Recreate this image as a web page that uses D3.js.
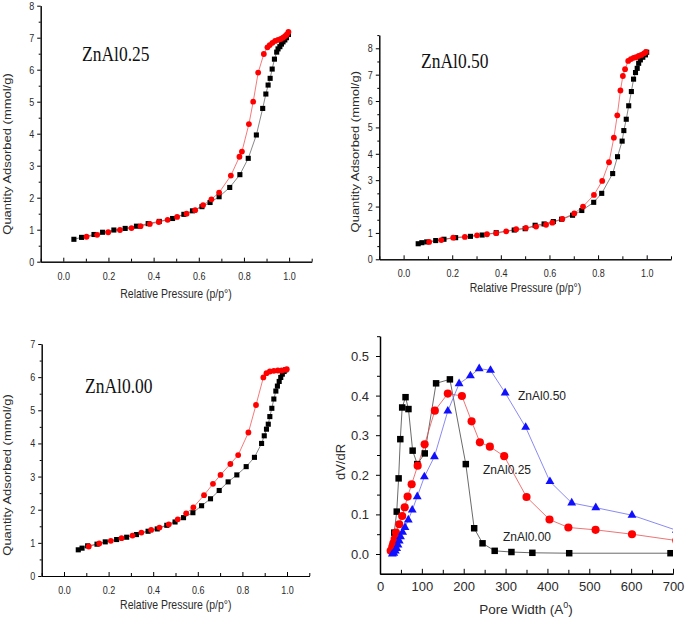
<!DOCTYPE html>
<html>
<head>
<meta charset="utf-8">
<script src="https://cdn.jsdelivr.net/npm/d3@7"></script>
<style>
body {margin:0; background:#fff;}
svg {display:block;}
text {font-family:"Liberation Sans", Arial, sans-serif;}
text.serif {font-family:"Liberation Serif", "Times New Roman", serif;}
</style>
</head>
<body>
<div id="chart"></div>
<script>
// isotherms: relative pressure (p/p0) vs quantity adsorbed (mmol/g)
var a25AdsP = [0.047,0.081,0.136,0.174,0.224,0.274,0.324,0.376,0.425,0.484,0.534,0.572,0.614,0.650,0.690,0.737,0.782,0.819,0.855,0.883,0.897,0.907,0.916,0.925,0.935,0.945,0.951,0.959,0.966,0.973,0.981,0.988,0.997];
var a25AdsQ = [0.70,0.76,0.85,0.92,0.99,1.04,1.11,1.19,1.26,1.35,1.48,1.59,1.72,1.85,2.03,2.32,2.72,3.23,3.96,4.79,5.24,5.52,5.73,6.02,6.33,6.55,6.65,6.72,6.80,6.87,6.93,7.00,7.10];
var a25DesP = [0.103,0.150,0.199,0.251,0.302,0.342,0.383,0.423,0.462,0.504,0.546,0.584,0.619,0.656,0.690,0.742,0.780,0.791,0.822,0.841,0.863,0.888,0.904,0.914,0.926,0.938,0.951,0.963,0.973,0.982,0.990,0.997];
var a25DesQ = [0.78,0.84,0.92,0.99,1.05,1.11,1.18,1.24,1.31,1.40,1.50,1.61,1.77,1.95,2.16,2.69,3.28,3.44,4.30,5.00,5.91,6.49,6.70,6.77,6.84,6.90,6.93,6.96,7.00,7.05,7.10,7.18];

var a50AdsP = [0.060,0.075,0.095,0.132,0.166,0.214,0.275,0.323,0.381,0.455,0.500,0.541,0.578,0.616,0.650,0.695,0.733,0.782,0.815,0.860,0.880,0.899,0.906,0.916,0.926,0.937,0.946,0.954,0.961,0.967,0.974,0.984,0.995,1.000];
var a50AdsQ = [0.59,0.63,0.66,0.71,0.76,0.82,0.87,0.92,1.01,1.11,1.16,1.29,1.34,1.43,1.52,1.67,1.85,2.16,2.50,3.25,3.89,4.48,4.88,5.31,5.82,6.36,6.83,7.08,7.24,7.43,7.56,7.66,7.75,7.85];
var a50DesP = [0.105,0.155,0.204,0.252,0.302,0.343,0.381,0.422,0.463,0.503,0.545,0.586,0.612,0.653,0.702,0.738,0.783,0.817,0.845,0.865,0.879,0.892,0.902,0.911,0.924,0.935,0.946,0.956,0.967,0.978,0.989,0.997];
var a50DesQ = [0.66,0.73,0.82,0.85,0.91,0.95,0.99,1.06,1.14,1.19,1.24,1.31,1.39,1.53,1.74,2.00,2.44,2.97,3.68,4.61,5.46,6.40,6.95,7.21,7.52,7.59,7.64,7.66,7.71,7.75,7.81,7.86];

var a00AdsP = [0.064,0.081,0.106,0.148,0.185,0.236,0.281,0.325,0.377,0.418,0.461,0.498,0.536,0.578,0.617,0.657,0.696,0.736,0.775,0.817,0.854,0.886,0.898,0.908,0.916,0.923,0.932,0.941,0.950,0.957,0.965,0.972,0.979,0.987,0.994];
var a00AdsQ = [0.79,0.84,0.91,0.96,1.03,1.10,1.17,1.25,1.35,1.42,1.53,1.63,1.76,1.91,2.12,2.33,2.58,2.84,3.05,3.30,3.58,4.00,4.23,4.43,4.58,4.81,5.06,5.34,5.58,5.73,5.87,5.99,6.09,6.17,6.22];
var a00DesP = [0.111,0.158,0.210,0.258,0.307,0.347,0.391,0.428,0.470,0.510,0.548,0.580,0.628,0.668,0.702,0.746,0.781,0.827,0.861,0.894,0.908,0.923,0.941,0.959,0.976,0.991,0.999];
var a00DesQ = [0.89,0.98,1.06,1.14,1.22,1.31,1.39,1.46,1.56,1.71,1.89,2.07,2.44,2.78,3.05,3.38,3.65,4.33,5.16,5.99,6.12,6.17,6.19,6.20,6.20,6.22,6.24];

// pore size distribution: pore width (A) vs dV/dR
var psdW00 = [31,34,40,44.5,48.5,53,61,68,78,89,107,134,167,205,225,245,274,314,364,452,694];
var psdV00 = [0.02,0.054,0.107,0.191,0.29,0.37,0.396,0.366,0.261,0.227,0.254,0.431,0.441,0.227,0.065,0.027,0.008,0.005,0.003,0.002,0.002];
var psdW25 = [25.5,29.4,31.8,35,38.2,46,53,59,66,75.6,90,106.6,131,162,195.7,218.8,238.6,262.5,296.7,350,405,450,515,602,708];
var psdV25 = [0.008,0.018,0.027,0.038,0.054,0.075,0.096,0.118,0.145,0.176,0.223,0.277,0.362,0.405,0.399,0.335,0.282,0.271,0.247,0.144,0.087,0.067,0.061,0.050,0.034];
var psdW50 = [29.4,33,36.6,39.8,43,46,49,54,59.7,67.6,77,89,106,130,162,189,216,237,264,299,348,406,458,515.5,602,708];
var psdV50 = [0.0,0.002,0.008,0.014,0.023,0.033,0.044,0.055,0.067,0.086,0.111,0.145,0.195,0.246,0.361,0.43,0.45,0.468,0.464,0.407,0.32,0.183,0.129,0.117,0.098,0.060];

var psdNames = ["ZnAl0.00", "ZnAl0.25", "ZnAl0.50"];

var svg = d3.select("#chart").append("svg")
    .attr("width", 685)
    .attr("height", 624);

var sansCol = "#2b2b2b";
var stretch = 1.18;   // the three isotherm panels are squashed horizontally in the source

function styleTicks(sel) {
    sel.attr("color", "#000");
    sel.selectAll("path, line").attr("stroke-width", 1);
}

function drawIso(c) {
    var g = svg.append("g");
    var x = d3.scaleLinear().domain([-0.1, 1.1]).range([c.left, c.right]);
    var y = d3.scaleLinear().domain([0, c.ymax]).range([c.bottom, c.top]);

    // x axis, ticks point inward
    g.append("g")
	.attr("transform", "translate(0," + c.bottom + ")")
	.call(d3.axisBottom(x).tickValues([-0.1, 0.1, 0.3, 0.5, 0.7, 0.9, 1.1])
	      .tickSizeInner(-3).tickSizeOuter(0).tickFormat(""))
	.call(styleTicks);
    var xa = g.append("g")
	.attr("transform", "translate(0," + c.bottom + ")")
	.call(d3.axisBottom(x).tickValues([0, 0.2, 0.4, 0.6, 0.8, 1.0])
	      .tickSizeInner(-4).tickSizeOuter(0).tickFormat(d3.format(".1f")))
	.call(styleTicks);
    xa.selectAll("text")
	.attr("y", null).attr("dy", null)
	.attr("transform", "translate(0,18) scale(1," + stretch + ")")
	.attr("font-size", 9).attr("fill", sansCol);

    // y axis, ticks point outward
    g.append("g")
	.attr("transform", "translate(" + c.left + ",0)")
	.call(d3.axisLeft(y).tickValues(d3.range(0.5, c.ymax + 0.01, 1))
	      .tickSizeInner(2).tickSizeOuter(0).tickFormat(""))
	.call(styleTicks);
    var ya = g.append("g")
	.attr("transform", "translate(" + c.left + ",0)")
	.call(d3.axisLeft(y).tickValues(d3.range(0, c.ymax + 0.01, 1))
	      .tickSizeInner(3.5).tickSizeOuter(0).tickFormat(d3.format("d")))
	.call(styleTicks);
    ya.selectAll("text")
	.attr("x", null).attr("dy", "0.33em")
	.attr("transform", "translate(-6.5,0) scale(1," + stretch + ")")
	.attr("font-size", 9).attr("fill", sansCol);

    g.append("text")
	.attr("text-anchor", "middle")
	.attr("transform", "translate(" + c.xtX + "," + c.xtY + ") scale(1," + stretch + ")")
	.attr("font-size", 10.5).attr("fill", sansCol)
	.text("Relative Pressure (p/p°)");
    g.append("text")
	.attr("text-anchor", "middle")
	.attr("transform", "translate(" + c.ytX + "," + c.ytY + ") scale(1," + stretch + ") rotate(-90)")
	.attr("font-size", 11).attr("fill", sansCol)
	.text("Quantity Adsorbed (mmol/g)");

    g.append("text")
	.attr("class", "serif")
	.attr("transform", "translate(" + c.lx + "," + c.ly + ") scale(1," + stretch + ")")
	.attr("font-size", 17.5).attr("fill", "#111")
	.text(c.label);

    var ads = d3.zip(c.ads[0], c.ads[1]);
    var des = d3.zip(c.des[0], c.des[1]);
    var line = d3.line().x(function(d){return x(d[0]);}).y(function(d){return y(d[1]);});

    g.append("path").datum(ads).attr("d", line)
	.attr("fill", "none").attr("stroke", "#555").attr("stroke-width", 0.7);
    g.append("path").datum(des).attr("d", line)
	.attr("fill", "none").attr("stroke", "#f04040").attr("stroke-width", 0.7);

    g.selectAll(".sq").data(ads).enter().append("path")
	.attr("class", "sq")
	.attr("transform", function(d){return "translate(" + x(d[0]) + "," + y(d[1]) + ")";})
	.attr("d", d3.symbol().type(d3.symbolSquare).size(26))
	.attr("fill", "#000");
    g.selectAll(".ci").data(des).enter().append("circle")
	.attr("class", "ci")
	.attr("cx", function(d){return x(d[0]);})
	.attr("cy", function(d){return y(d[1]);})
	.attr("r", 2.9)
	.attr("fill", "#f00");
}

drawIso({left: 40.7, right: 311.7, bottom: 261.7, top: 5.7, ymax: 8,
	 ads: [a25AdsP, a25AdsQ], des: [a25DesP, a25DesQ], label: "ZnAl0.25",
	 lx: 82, ly: 61, xtX: 176, xtY: 297.5, ytX: 10.5, ytY: 154});
drawIso({left: 379.3, right: 671, bottom: 259.3, top: 35.1, ymax: 8.5,
	 ads: [a50AdsP, a50AdsQ], des: [a50DesP, a50DesQ], label: "ZnAl0.50",
	 lx: 421, ly: 67.5, xtX: 525.5, xtY: 291.5, ytX: 359, ytY: 151.7});
drawIso({left: 41.7, right: 309.3, bottom: 576, top: 344, ymax: 7,
	 ads: [a00AdsP, a00AdsQ], des: [a00DesP, a00DesQ], label: "ZnAl0.00",
	 lx: 85, ly: 392.5, xtX: 175.8, xtY: 608.5, ytX: 11, ytY: 475});

// pore size distribution panel
function drawPsd() {
    var g = svg.append("g");
    var x = d3.scaleLinear().domain([0, 700]).range([380, 673]);
    var y = d3.scaleLinear().domain([-0.05, 0.55]).range([573.8, 336.2]);

    g.append("clipPath").attr("id", "psdclip")
	.append("rect").attr("x", 380).attr("y", 330).attr("width", 293).attr("height", 246);

    g.append("g")
	.attr("transform", "translate(0," + y(-0.05) + ")")
	.call(d3.axisBottom(x).tickValues(d3.range(50, 700, 100))
	      .tickSizeInner(-4).tickSizeOuter(0).tickFormat(""))
	.call(styleTicks);
    var xa = g.append("g")
	.attr("transform", "translate(0," + y(-0.05) + ")")
	.call(d3.axisBottom(x).tickValues(d3.range(0, 701, 100))
	      .tickSizeInner(-5).tickSizeOuter(0).tickFormat(d3.format("d")))
	.call(styleTicks);
    xa.selectAll("path").attr("stroke-width", 1.5);
    xa.selectAll("text")
	.attr("y", 17.5).attr("dy", null)
	.attr("font-size", 13).attr("fill", sansCol);

    g.append("g")
	.attr("transform", "translate(380,0)")
	.call(d3.axisLeft(y).tickValues(d3.range(0.05, 0.56, 0.1))
	      .tickSizeInner(3).tickSizeOuter(0).tickFormat(""))
	.call(styleTicks);
    var ya = g.append("g")
	.attr("transform", "translate(380,0)")
	.call(d3.axisLeft(y).tickValues(d3.range(0, 0.51, 0.1))
	      .tickSizeInner(4).tickSizeOuter(0).tickFormat(d3.format(".1f")))
	.call(styleTicks);
    ya.selectAll("path").attr("stroke-width", 1.5);
    ya.selectAll("text")
	.attr("x", -11).attr("dy", "0.35em")
	.attr("font-size", 13).attr("fill", sansCol);

    var xt = g.append("text")
	.attr("x", 526).attr("y", 614)
	.attr("text-anchor", "middle")
	.attr("font-size", 13.5).attr("fill", sansCol)
	.text("Pore Width (A");
    xt.append("tspan").attr("font-size", 9).attr("dy", -6).text("0");
    xt.append("tspan").attr("dy", 6).text(")");

    g.append("text")
	.attr("transform", "translate(345,462) rotate(-90)")
	.attr("text-anchor", "middle")
	.attr("font-size", 13).attr("fill", sansCol)
	.text("dV/dR");

    var line = d3.line().x(function(d){return x(d[0]);}).y(function(d){return y(d[1]);});
    var series = [
	{pts: d3.zip(psdW00, psdV00), line: "#444", fill: "#000", sym: d3.symbolSquare, size: 42},
	{pts: d3.zip(psdW25, psdV25), line: "#e85050", fill: "#f00", sym: d3.symbolCircle, size: 52},
	{pts: d3.zip(psdW50, psdV50), line: "#6c6cf0", fill: "#1010ff", sym: d3.symbolTriangle, size: 34}
    ];
    var pg = g.append("g").attr("clip-path", "url(#psdclip)");
    series.forEach(function(s) {
	pg.append("path").datum(s.pts).attr("d", line)
	    .attr("fill", "none").attr("stroke", s.line).attr("stroke-width", 0.8);
    });
    series.forEach(function(s) {
	pg.selectAll(null).data(s.pts).enter().append("path")
	    .attr("transform", function(d){return "translate(" + x(d[0]) + "," + y(d[1]) + ")";})
	    .attr("d", d3.symbol().type(s.sym).size(s.size))
	    .attr("fill", s.fill);
    });

    // label positions follow psdNames order
    var lab = [[503, 541], [483, 474], [518, 400]];
    psdNames.forEach(function(name, i) {
	g.append("text")
	    .attr("x", lab[i][0]).attr("y", lab[i][1])
	    .attr("font-size", 12).attr("fill", "#222")
	    .text(name);
    });
}

drawPsd();
</script>
</body>
</html>
